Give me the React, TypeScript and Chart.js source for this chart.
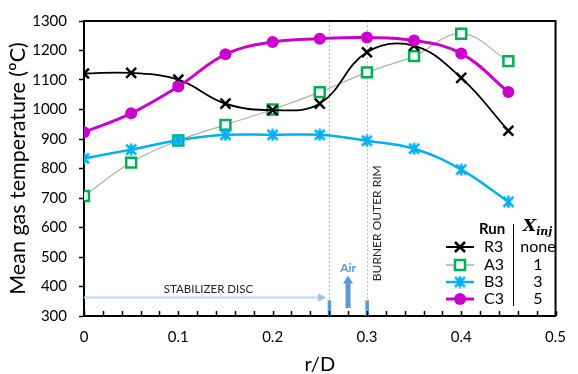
import React, { useEffect, useRef } from 'react';
import { Chart, registerables } from 'chart.js';

Chart.register(...registerables);

// ---- data ----
const rD = [0, 0.05, 0.1, 0.15, 0.2, 0.25, 0.3, 0.35, 0.4, 0.45];
const R3 = [1122, 1124, 1101, 1020, 998, 1020, 1194, 1216, 1107, 928];
const A3 = [707, 820, 895, 948, 1000, 1059, 1126, 1181, 1257, 1164];
const B3 = [834, 864, 896, 914, 914, 914, 894, 867, 796, 687];
const C3 = [923, 987, 1078, 1187, 1229, 1240, 1244, 1234, 1190, 1059];

const runLabels = ['R3', 'A3', 'B3', 'C3'];
const xinjLabels = ['none', '1', '3', '5'];

const yMin = 300;
const yMax = 1300;
const yStep = 100;
const xMin = 0;
const xMax = 0.5;
const xMinorStep = 0.02;

// annotation anchors (data units)
const discEdge = 0.26;
const rimEdge = 0.3;
const airX = 0.28;

const FONT = 'Lato, "Open Sans", sans-serif';

const COL_R3 = '#000000';
const COL_A3_LINE = '#A9B59F';
const COL_A3_MARK = '#00B050';
const COL_B3 = '#00B0F0';
const COL_C3 = '#CC00CC';
const COL_ANN = '#5B9BD5';
const COL_ANN_LIGHT = '#9DC3E6';

function makeStar(color: string, size: number): HTMLCanvasElement {
  const c = document.createElement('canvas');
  c.width = size;
  c.height = size;
  const g = c.getContext('2d')!;
  g.strokeStyle = color;
  g.lineWidth = 2.5;
  const m = 1.5;
  g.beginPath();
  g.moveTo(m, m);
  g.lineTo(size - m, size - m);
  g.moveTo(size - m, m);
  g.lineTo(m, size - m);
  g.moveTo(size / 2, 0.5);
  g.lineTo(size / 2, size - 0.5);
  g.stroke();
  return c;
}

function drawMarker(ctx: CanvasRenderingContext2D, kind: string, cx: number, cy: number, star: HTMLCanvasElement) {
  ctx.save();
  ctx.setLineDash([]);
  if (kind === 'R3') {
    ctx.strokeStyle = COL_R3;
    ctx.lineWidth = 2.5;
    const r = 5;
    ctx.beginPath();
    ctx.moveTo(cx - r, cy - r);
    ctx.lineTo(cx + r, cy + r);
    ctx.moveTo(cx + r, cy - r);
    ctx.lineTo(cx - r, cy + r);
    ctx.stroke();
  } else if (kind === 'A3') {
    ctx.fillStyle = '#fff';
    ctx.strokeStyle = COL_A3_MARK;
    ctx.lineWidth = 2.5;
    ctx.fillRect(cx - 5, cy - 5, 10, 10);
    ctx.strokeRect(cx - 5, cy - 5, 10, 10);
  } else if (kind === 'B3') {
    ctx.drawImage(star, cx - star.width / 2, cy - star.height / 2);
  } else {
    ctx.fillStyle = COL_C3;
    ctx.beginPath();
    ctx.arc(cx, cy, 6, 0, Math.PI * 2);
    ctx.fill();
  }
  ctx.restore();
}

export default function App() {
  const ref = useRef<HTMLCanvasElement | null>(null);

  useEffect(() => {
    document.body.style.margin = '0';
    const canvas = ref.current!;
    const star = makeStar(COL_B3, 13);

    const annotPlugin = {
      id: 'annot',
      beforeDatasetsDraw(chart: any) {
        const { ctx, chartArea: a, scales } = chart;
        const x = scales.x;
        const y = scales.y;
        ctx.save();
        // dotted vertical lines
        ctx.strokeStyle = COL_ANN_LIGHT;
        ctx.lineWidth = 1;
        ctx.setLineDash([2, 2]);
        for (const v of [discEdge, rimEdge]) {
          const px = Math.round(x.getPixelForValue(v)) + 0.5;
          ctx.beginPath();
          ctx.moveTo(px, a.top);
          ctx.lineTo(px, a.bottom);
          ctx.stroke();
        }
        ctx.setLineDash([]);
        // thick bars at the bottom
        ctx.fillStyle = COL_ANN;
        for (const v of [discEdge, rimEdge]) {
          const px = x.getPixelForValue(v);
          const top = y.getPixelForValue(353);
          ctx.fillRect(px - 1.5, top, 3.5, a.bottom - top);
        }
        // stabilizer disc arrow
        const sy = Math.round(y.getPixelForValue(363)) + 0.5;
        const sx0 = x.getPixelForValue(0);
        const sx1 = x.getPixelForValue(discEdge) - 3;
        ctx.strokeStyle = '#BDD7EE';
        ctx.lineWidth = 2;
        ctx.beginPath();
        ctx.moveTo(sx0, sy);
        ctx.lineTo(sx1 - 6, sy);
        ctx.stroke();
        ctx.fillStyle = COL_ANN_LIGHT;
        ctx.beginPath();
        ctx.moveTo(sx1, sy);
        ctx.lineTo(sx1 - 8, sy - 4);
        ctx.lineTo(sx1 - 8, sy + 4);
        ctx.closePath();
        ctx.fill();
        // air arrow
        const ax = x.getPixelForValue(airX);
        const ab = y.getPixelForValue(327);
        const at = y.getPixelForValue(437);
        ctx.fillStyle = COL_ANN;
        ctx.fillRect(ax - 2.5, at + 7, 5, ab - at - 7);
        ctx.beginPath();
        ctx.moveTo(ax, at);
        ctx.lineTo(ax - 5, at + 8);
        ctx.lineTo(ax + 5, at + 8);
        ctx.closePath();
        ctx.fill();
        // texts
        ctx.fillStyle = COL_ANN;
        ctx.font = 'bold 12px ' + FONT;
        ctx.textAlign = 'center';
        ctx.textBaseline = 'middle';
        ctx.fillText('Air', ax, y.getPixelForValue(463));
        ctx.fillStyle = '#262626';
        ctx.font = '11.5px ' + FONT;
        ctx.fillText('STABILIZER DISC', x.getPixelForValue(0.132), sy - 8);
        ctx.save();
        ctx.translate(x.getPixelForValue(rimEdge) + 10, y.getPixelForValue(330) - 26);
        ctx.rotate(-Math.PI / 2);
        ctx.textAlign = 'left';
        ctx.font = '12px ' + FONT;
        ctx.fillText('BURNER OUTER RIM', 0, 0);
        ctx.restore();
        ctx.restore();
      },
      afterDraw(chart: any) {
        const { ctx, chartArea: a, scales } = chart;
        const x = scales.x;
        ctx.save();
        // frame top/right
        ctx.strokeStyle = '#000';
        ctx.lineWidth = 2;
        ctx.beginPath();
        ctx.moveTo(a.left, a.top);
        ctx.lineTo(a.right, a.top);
        ctx.lineTo(a.right, a.bottom);
        ctx.stroke();
        // inside x ticks
        ctx.lineWidth = 1.5;
        for (const t of x.ticks) {
          const px = Math.round(x.getPixelForValue(t.value)) + 0.5;
          ctx.beginPath();
          ctx.moveTo(px, a.bottom);
          ctx.lineTo(px, a.bottom - 5);
          ctx.stroke();
        }
        // legend
        const lx = 460;
        const rows = [247, 265, 282, 299];
        const styles = [
          { c: COL_R3, w: 2 },
          { c: COL_A3_LINE, w: 1.5 },
          { c: COL_B3, w: 2.5 },
          { c: COL_C3, w: 3 },
        ];
        ctx.font = 'bold 15px ' + FONT;
        ctx.fillStyle = '#000';
        ctx.textAlign = 'left';
        ctx.textBaseline = 'middle';
        ctx.fillText('Run', 479, 229);
        rows.forEach((ry, i) => {
          ctx.strokeStyle = styles[i].c;
          ctx.lineWidth = styles[i].w;
          ctx.beginPath();
          ctx.moveTo(lx - 14, ry);
          ctx.lineTo(lx + 14, ry);
          ctx.stroke();
          drawMarker(ctx, runLabels[i], lx, ry, star);
          ctx.fillStyle = '#000';
          ctx.font = '16px ' + FONT;
          ctx.textAlign = 'left';
          ctx.fillText(runLabels[i], 484, ry);
          ctx.textAlign = 'center';
          ctx.fillText(xinjLabels[i], 538, ry);
        });
        // separator
        ctx.strokeStyle = '#000';
        ctx.lineWidth = 1;
        ctx.beginPath();
        ctx.moveTo(513.5, 224);
        ctx.lineTo(513.5, 306);
        ctx.stroke();
        // X_inj header
        ctx.fillStyle = '#000';
        ctx.textAlign = 'left';
        ctx.font = 'bold italic 17px "DejaVu Serif", serif';
        ctx.fillText('X', 523, 227);
        const wX = ctx.measureText('X').width;
        ctx.font = 'bold italic 11px "DejaVu Serif", serif';
        ctx.fillText('inj', 523 + wX, 232);
        ctx.restore();
      },
    };

    const mk = (label: string, data: number[], extra: any) => ({
      label,
      data: rD.map((v, i) => ({ x: v, y: data[i] })),
      tension: 0.4,
      fill: false,
      ...extra,
    });

    const chart = new Chart(canvas, {
      type: 'line',
      data: {
        datasets: [
          mk('C3', C3, {
            borderColor: COL_C3,
            backgroundColor: COL_C3,
            borderWidth: 3,
            pointStyle: 'circle',
            pointRadius: 6,
            pointBorderWidth: 0,
            order: 0,
          }),
          mk('B3', B3, {
            borderColor: COL_B3,
            backgroundColor: COL_B3,
            borderWidth: 2.5,
            pointStyle: star,
            pointRadius: 6,
            order: 1,
          }),
          mk('R3', R3, {
            borderColor: COL_R3,
            backgroundColor: COL_R3,
            borderWidth: 1.8,
            pointStyle: 'crossRot',
            pointRadius: 7,
            pointBorderWidth: 2.5,
            order: 2,
          }),
          mk('A3', A3, {
            borderColor: COL_A3_LINE,
            backgroundColor: '#ffffff',
            pointBorderColor: COL_A3_MARK,
            borderWidth: 1.2,
            pointStyle: 'rect',
            pointRadius: 7,
            pointBorderWidth: 2.5,
            order: 3,
          }),
        ],
      },
      options: {
        animation: false,
        responsive: false,
        maintainAspectRatio: false,
        layout: { padding: { top: 16, right: 11, left: 0, bottom: 0 } },
        plugins: {
          legend: { display: false },
          tooltip: { enabled: false },
        },
        scales: {
          x: {
            type: 'linear',
            min: xMin,
            max: xMax,
            afterFit: (s: any) => {
              s.height = 58;
            },
            ticks: {
              stepSize: xMinorStep,
              autoSkip: false,
              maxRotation: 0,
              padding: 12,
              color: '#000',
              font: { family: FONT, size: 15 },
              callback: (v: any) => {
                const n = Number(v);
                const t = Math.round(n * 10);
                if (Math.abs(n * 10 - t) < 1e-6) return String(Number((t / 10).toFixed(1)));
                return '';
              },
            },
            grid: { display: true, drawOnChartArea: false, drawTicks: false },
            border: { display: true, color: '#000', width: 2 },
            title: {
              display: true,
              text: 'r/D',
              color: '#000',
              font: { family: FONT, size: 20 },
              padding: { top: 0, bottom: -3 },
            },
          },
          y: {
            type: 'linear',
            min: yMin,
            max: yMax,
            afterFit: (s: any) => {
              s.width = 84;
            },
            ticks: {
              stepSize: yStep,
              padding: 12,
              color: '#000',
              font: { family: FONT, size: 15 },
              callback: (v: any) => String(v),
            },
            grid: {
              display: true,
              drawOnChartArea: false,
              drawTicks: true,
              tickLength: 5,
              color: '#000',
              tickWidth: 1.5,
            },
            border: { display: true, color: '#000', width: 2 },
            title: {
              display: true,
              text: 'Mean gas temperature (ºC)',
              color: '#000',
              font: { family: FONT, size: 21.5 },
              padding: { top: 5, bottom: 0 },
            },
          },
        },
      },
      plugins: [annotPlugin],
    });

    return () => chart.destroy();
  }, []);

  return (
    <div style={{ width: 578, height: 374 }}>
      <canvas ref={ref} width={578} height={374} style={{ display: 'block' }} />
    </div>
  );
}
